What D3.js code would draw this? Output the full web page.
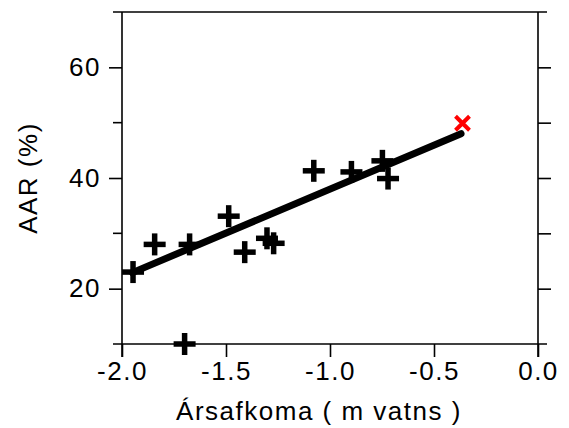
<!DOCTYPE html>
<html>
<head>
<meta charset="utf-8">
<script src="https://cdn.jsdelivr.net/npm/d3@7"></script>
<style>
  body { margin: 0; background: #fff; }
  svg { display: block; }
  text { font-family: "Liberation Sans", Arial, sans-serif; font-size: 26px; letter-spacing: 1.5px; fill: #000; }
</style>
</head>
<body>
<div id="chart"></div>
<script>
// mass balance (m w.e.) vs accumulation area ratio (%)
var balance = [-1.947, -1.843, -1.675, -1.699, -1.487, -1.410, -1.303, -1.271, -1.078, -0.897, -0.748, -0.721];
var aar     = [23.0, 28.0, 28.0, 10.0, 33.1, 26.6, 29.1, 28.2, 41.3, 41.1, 43.1, 39.9];
// the highlighted point
var markX = [-0.363];
var markY = [49.9];
// regression line endpoints
var fitX = [-1.95, -0.37];
var fitY = [22.9, 48.0];

var xTicks = [-2.0, -1.5, -1.0, -0.5, 0.0];
var yMajor = [20, 40, 60];
var yMinor = [30, 50];

var width = 569, height = 428;

var svg = d3.select("#chart").append("svg")
  .attr("width", width)
  .attr("height", height);

var x = d3.scaleLinear().domain([-2.0, 0.0]).range([122, 538]);
var y = d3.scaleLinear().domain([10, 70]).range([344, 12]);

var axisColor = "#000", axisW = 1.6;
var fmt1 = d3.format(".1f");

// frame lines (horizontal ones overhang by the minor tick length)
var frame = svg.append("g").attr("stroke", axisColor).attr("stroke-width", axisW);
frame.append("line").attr("x1", x.range()[0] - 9).attr("x2", x.range()[1] + 9).attr("y1", y(70)).attr("y2", y(70));
frame.append("line").attr("x1", x.range()[0] - 9).attr("x2", x.range()[1] + 9).attr("y1", y(10)).attr("y2", y(10));

// bottom axis
var xAxis = d3.axisBottom(x).tickValues(xTicks).tickSize(13).tickSizeOuter(0).tickPadding(5)
  .tickFormat(function(d) { return fmt1(d).replace("\u2212", "-"); });
var gx = svg.append("g").attr("transform", "translate(0," + y(10) + ")").call(xAxis);
gx.select(".domain").remove();

// left axis
var gy = svg.append("g").attr("transform", "translate(" + x(-2) + ",0)")
  .call(d3.axisLeft(y).tickValues(yMajor).tickSize(13).tickSizeOuter(0).tickPadding(8).tickFormat(d3.format("d")));
gy.select(".domain").attr("d", "M0," + y(70) + "V" + (y(10) + 13));
gy.append("g").selectAll("line").data(yMinor).enter().append("line")
  .attr("x1", -9).attr("x2", 0).attr("y1", function(d) { return y(d); }).attr("y2", function(d) { return y(d); })
  .attr("stroke", axisColor);

// right axis, ticks only
var gr = svg.append("g").attr("transform", "translate(" + x(0) + ",0)")
  .call(d3.axisRight(y).tickValues([20, 30, 40, 50, 60]).tickSize(13).tickSizeOuter(0).tickFormat(""));
gr.select(".domain").attr("d", "M0," + y(70) + "V" + (y(10) + 13));

svg.selectAll(".tick line, .domain").attr("stroke", axisColor).attr("stroke-width", axisW);
gy.selectAll("g line").attr("stroke-width", axisW);
svg.selectAll(".tick text").style("font-size", "26px").style("font-family", "'Liberation Sans', Arial, sans-serif").attr("fill", "#000");

// regression line
svg.append("line")
  .attr("x1", x(fitX[0])).attr("y1", y(fitY[0]))
  .attr("x2", x(fitX[1])).attr("y2", y(fitY[1]))
  .attr("stroke", "#000").attr("stroke-width", 7).attr("stroke-linecap", "round");

// plus markers
var arm = 11, thick = 5.5;
var pts = svg.append("g").selectAll("g").data(balance).enter().append("g")
  .attr("transform", function(d, i) { return "translate(" + x(d) + "," + y(aar[i]) + ")"; });
pts.append("rect").attr("x", -arm).attr("y", -thick / 2).attr("width", 2 * arm).attr("height", thick).attr("fill", "#000");
pts.append("rect").attr("x", -thick / 2).attr("y", -arm).attr("width", thick).attr("height", 2 * arm).attr("fill", "#000");

// red cross
var xs = 7;
var mk = svg.append("g").selectAll("g").data(markX).enter().append("g")
  .attr("transform", function(d, i) { return "translate(" + x(d) + "," + y(markY[i]) + ")"; });
mk.append("path").attr("d", "M" + (-xs) + "," + (-xs) + "L" + xs + "," + xs + "M" + (-xs) + "," + xs + "L" + xs + "," + (-xs))
  .attr("stroke", "#ff0000").attr("stroke-width", 4);

// axis titles
svg.append("text")
  .attr("x", 319).attr("y", 420)
  .attr("text-anchor", "middle")
  .text("Ársafkoma ( m vatns )");

svg.append("text")
  .attr("transform", "translate(37,178) rotate(-90)")
  .attr("text-anchor", "middle")
  .text("AAR (%)");
</script>
</body>
</html>
